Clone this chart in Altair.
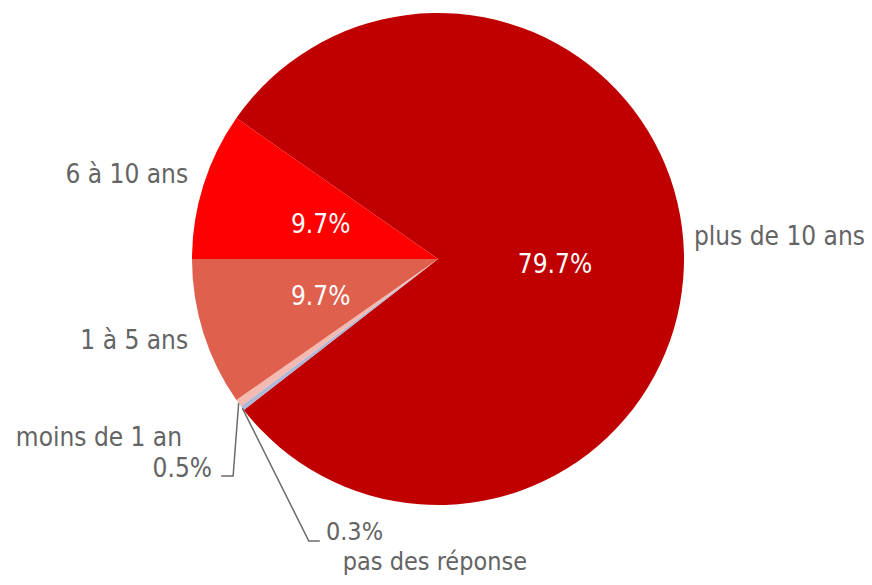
import math
import altair as alt
import pandas as pd

# ---- data (clockwise order, starting at the big slice) ----
categories = ["plus de 10 ans", "pas des réponse", "moins de 1 an", "1 à 5 ans", "6 à 10 ans"]
values = [79.7, 0.3, 0.5, 9.7, 9.7]
pct_labels = ["79.7%", "0.3%", "0.5%", "9.7%", "9.7%"]

# ---- styles ----
colors = ["#C00000", "#AFB8D6", "#F4BAB1", "#E0604E", "#FF0000"]
FONT = "Tahoma, 'DejaVu Sans Condensed', 'DejaVu Sans', sans-serif"
FS = 26
FS_SMALL = 25
GREY = "#646464"
W, H = 856, 569
CX, CY = 430, 251
R = 246
START_DEG = -55.05

total = sum(values)
df = pd.DataFrame({"cat": categories, "value": values, "pct": pct_labels,
                   "order": list(range(len(categories)))})
df["end"] = df["value"].cumsum()
df["start"] = df["end"] - df["value"]
df["mid"] = (df["start"] + df["end"]) / 2

start_rad = math.radians(START_DEG)
theta_scale = alt.Scale(domain=[0, total], range=[start_rad, start_rad + 2 * math.pi])
color_scale = alt.Scale(domain=categories, range=colors)

base = alt.Chart(df)

arcs = base.mark_arc(outerRadius=R).encode(
    theta=alt.Theta("start:Q", scale=theta_scale),
    theta2="end:Q",
    color=alt.Color("cat:N", scale=color_scale, legend=None),
    x=alt.value(CX),
    y=alt.value(CY),
)


def label(cat, field, r, align, dx, dy, color, fs=FS):
    return base.transform_filter(alt.datum.cat == cat).mark_text(
        radius=r, align=align, baseline="alphabetic", dx=dx, dy=dy,
        font=FONT, fontSize=fs, color=color,
    ).encode(
        theta=alt.Theta("mid:Q", scale=theta_scale, stack=False),
        text=alt.Text(field),
        x=alt.value(CX),
        y=alt.value(CY),
    )


layers = [
    arcs,
    label("plus de 10 ans", "pct:N", 117, "center", 0, 17, "white"),
    label("6 à 10 ans", "pct:N", 123, "center", 0, 11, "white"),
    label("1 à 5 ans", "pct:N", 123, "center", 0, 9, "white"),
    label("plus de 10 ans", "cat:N", 256, "left", 0, -7.5, GREY),
    label("6 à 10 ans", "cat:N", 262, "right", 0, 3, GREY),
    label("1 à 5 ans", "cat:N", 262, "right", 0, 11, GREY),
    label("moins de 1 an", "cat:N", R, "right", -56.6, 43, GREY),
    label("moins de 1 an", "pct:N", R, "right", -26.6, 74, GREY),
    label("pas des réponse", "pct:N", R, "left", 83.6, 132, GREY, FS_SMALL),
    label("pas des réponse", "cat:N", R, "center", 192.6, 162, GREY, FS_SMALL),
]

# leader lines: from slice rim (mid-angle) to an elbow and a short horizontal end
leader_offsets = {
    "moins de 1 an": [(-5.5, 73), (-17.5, 73)],
    "pas des réponse": [(66.5, 133), (77.5, 133)],
}
rows = []
for cat, offs in leader_offsets.items():
    mid = float(df.loc[df["cat"] == cat, "mid"].iloc[0])
    ang = start_rad + 2 * math.pi * mid / total
    px, py = CX + R * math.sin(ang), CY - R * math.cos(ang)
    rows.append({"cat": cat, "i": 0, "x": px, "y": py})
    for k, (ox, oy) in enumerate(offs):
        rows.append({"cat": cat, "i": k + 1, "x": px + ox, "y": py + oy})
lines_df = pd.DataFrame(rows)

leaders = alt.Chart(lines_df).mark_line(color="#6B6B6B", strokeWidth=1.5).encode(
    x=alt.X("x:Q", scale=None),
    y=alt.Y("y:Q", scale=None),
    detail="cat:N",
    order="i:Q",
)
layers.append(leaders)

chart = alt.layer(*layers).properties(
    width=W, height=H, padding=0,
    autosize=alt.AutoSizeParams(type="fit", contains="padding"),
).configure_view(stroke=None)

chart.save("out.html", embed_options={"renderer": "svg", "actions": False})
